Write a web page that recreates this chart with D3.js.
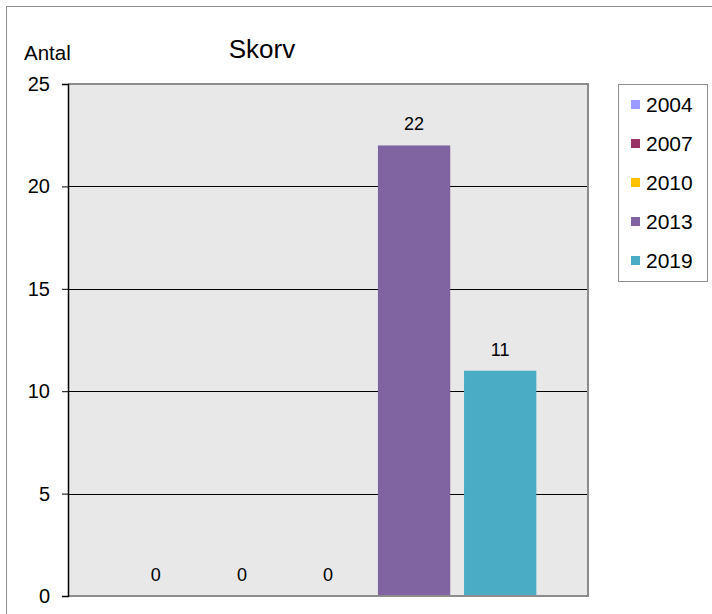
<!DOCTYPE html>
<html>
<head>
<meta charset="utf-8">
<script src="https://cdn.jsdelivr.net/npm/d3@7"></script>
<style>
  body { margin: 0; background: #fff; }
  text { font-family: "Liberation Sans", Arial, sans-serif; }
</style>
</head>
<body>
<div id="chart"></div>
<script>
const years = ["2004", "2007", "2010", "2013", "2019"]
const values = [0, 0, 0, 22, 11]
const colors = ["#9999FF", "#993366", "#FFC000", "#8064A2", "#4BACC6"]
const yTicks = [0, 5, 10, 15, 20, 25]

const width = 712
const height = 614
const plot = {left: 68, right: 588, top: 84, bottom: 596}

const svg = d3.select("#chart")
    .append("svg")
    .attr("width", width)
    .attr("height", height)

// outer frame
svg.append("rect")
    .attr("x", 6.5).attr("y", 6.5)
    .attr("width", 720).attr("height", 620)
    .attr("fill", "none")
    .attr("stroke", "#8c8c8c")

const y = d3.scaleLinear()
    .domain([0, 25])
    .range([plot.bottom, plot.top])

const x = d3.scaleBand()
    .domain(years)
    .range([plot.left, plot.right])
    .paddingInner(0.16)
    .paddingOuter(0.6)
    .align(0.5)

// plot background
svg.append("rect")
    .attr("x", plot.left).attr("y", plot.top)
    .attr("width", plot.right - plot.left)
    .attr("height", plot.bottom - plot.top)
    .attr("fill", "#e8e8e8")

// gridlines
svg.append("g")
    .selectAll("line")
    .data(yTicks.filter(d => d > 0 && d < 25))
    .join("line")
    .attr("x1", plot.left).attr("x2", plot.right)
    .attr("y1", d => Math.round(y(d)) + 0.5)
    .attr("y2", d => Math.round(y(d)) + 0.5)
    .attr("stroke", "#000")

// bars
svg.append("g")
    .selectAll("rect")
    .data(values)
    .join("rect")
    .attr("x", (d, i) => x(years[i]))
    .attr("y", d => y(d))
    .attr("width", x.bandwidth())
    .attr("height", d => y(0) - y(d))
    .attr("fill", (d, i) => colors[i])

// value labels
svg.append("g")
    .selectAll("text")
    .data(values)
    .join("text")
    .attr("x", (d, i) => x(years[i]) + x.bandwidth() / 2)
    .attr("y", d => y(d) - 15)
    .attr("text-anchor", "middle")
    .style("font-size", "18px")
    .text(d => d)

// plot border: gray top/right/bottom
svg.append("path")
    .attr("d", `M${plot.left},${plot.top}H${plot.right}V${plot.bottom}H${plot.left}`)
    .attr("fill", "none")
    .attr("stroke", "#8c8c8c")
    .attr("stroke-width", 2)

// y axis
const yAxis = svg.append("g")
    .attr("transform", `translate(${plot.left},0)`)
    .call(d3.axisLeft(y).tickValues(yTicks).tickSize(6).tickPadding(12))
yAxis.select(".domain").attr("stroke", "#000").attr("stroke-width", 1.5)
yAxis.selectAll("line").attr("stroke", "#000")
yAxis.selectAll("text")
    .style("font-size", "20px")
    .style("font-family", "Liberation Sans, Arial, sans-serif")
    .attr("fill", "#000")

svg.append("text")
    .attr("x", 24).attr("y", 60)
    .style("font-size", "20.5px")
    .text("Antal")

svg.append("text")
    .attr("x", 262).attr("y", 58)
    .attr("text-anchor", "middle")
    .style("font-size", "26px")
    .text("Skorv")

// legend
svg.append("rect")
    .attr("x", 618.5).attr("y", 84.5)
    .attr("width", 89).attr("height", 197)
    .attr("fill", "#fff")
    .attr("stroke", "#8c8c8c")
const items = svg.append("g")
    .selectAll("g")
    .data(years)
    .join("g")
    .attr("transform", (d, i) => `translate(631,${104 + i * 39})`)
items.append("rect")
    .attr("x", 0).attr("y", -4)
    .attr("width", 9).attr("height", 9)
    .attr("fill", (d, i) => colors[i])
items.append("text")
    .attr("x", 15).attr("y", 7.5)
    .style("font-size", "21px")
    .text(d => d)
</script>
</body>
</html>
